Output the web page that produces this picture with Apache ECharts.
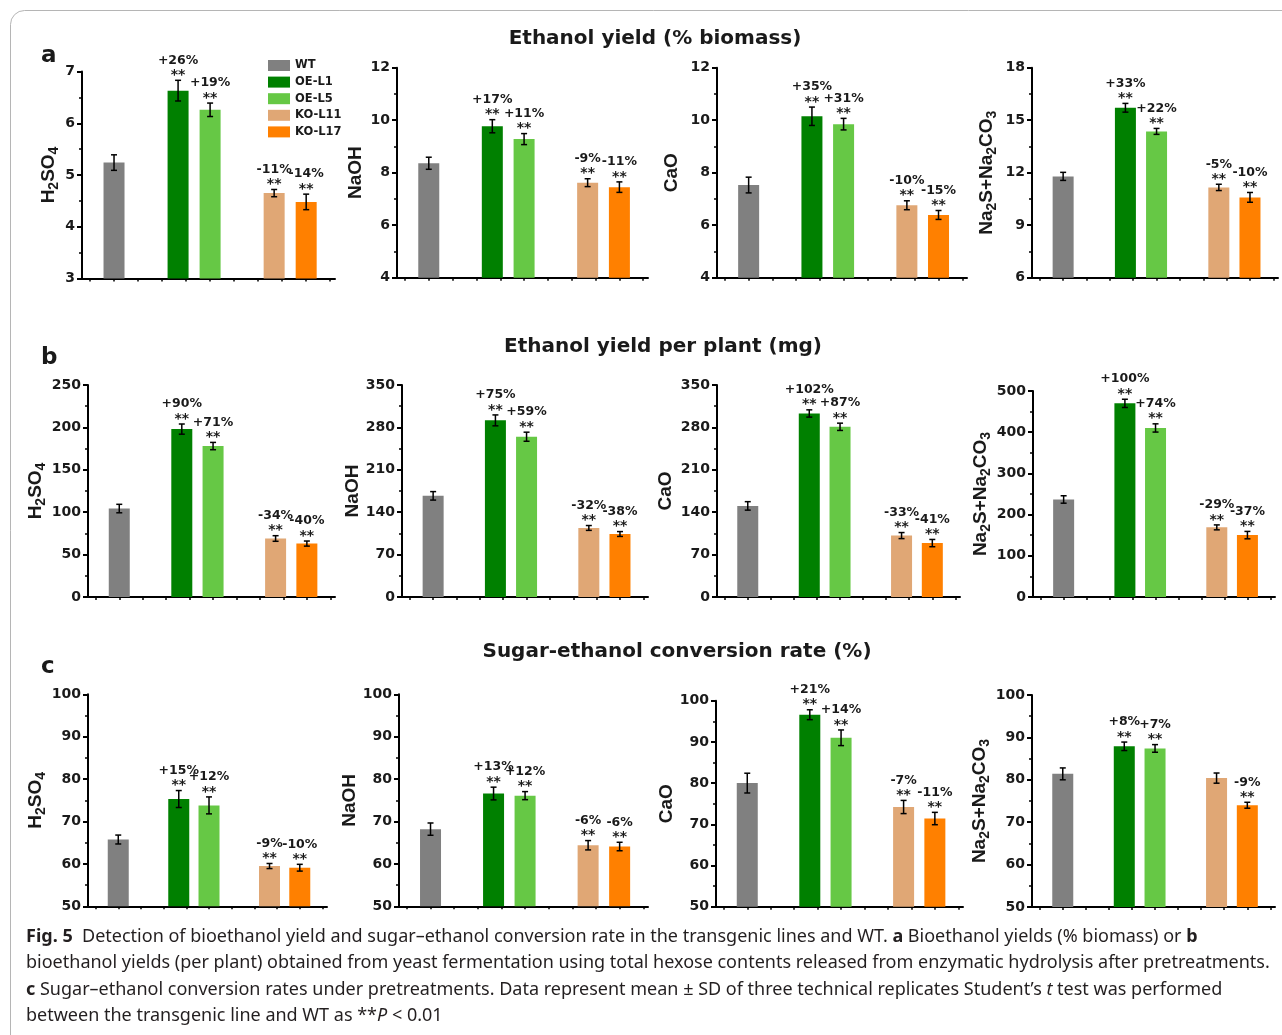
<!DOCTYPE html>
<html>
<head>
<meta charset="utf-8">
<script src="https://cdn.jsdelivr.net/npm/echarts@6/dist/echarts.min.js"></script>
<style>
  html, body { margin: 0; padding: 0; background: #ffffff; }
  #chart { width: 1282px; height: 1035px; }
</style>
</head>
<body>
<div id="chart"></div>
<script>
// ---- data ---------------------------------------------------------------
const genotypes = ['WT', 'OE-L1', 'OE-L5', 'KO-L11', 'KO-L17'];
// positions of the five bars along each panel's x axis (gaps at 2 and 5)
const barSlots = [1, 3, 4, 6, 7];
const pretreatments = ['H2SO4', 'NaOH', 'CaO', 'Na2S+Na2CO3'];
const rowLetters = ['a', 'b', 'c'];
const rowTitles = ['Ethanol yield (% biomass)', 'Ethanol yield per plant (mg)', 'Sugar-ethanol conversion rate (%)'];

// a: ethanol yield (% biomass), one row per pretreatment
const yieldPctMean = [
  [5.24, 6.63, 6.26, 4.65, 4.48],
  [8.36, 9.77, 9.28, 7.62, 7.45],
  [7.53, 10.15, 9.85, 6.76, 6.39],
  [11.79, 15.71, 14.36, 11.16, 10.59]
];
const yieldPctSD = [
  [0.15, 0.20, 0.13, 0.07, 0.15],
  [0.23, 0.25, 0.21, 0.15, 0.20],
  [0.30, 0.35, 0.22, 0.17, 0.17],
  [0.23, 0.25, 0.17, 0.18, 0.28]
];
const yieldPctChange = [
  ['', '+26%', '+19%', '-11%', '-14%'],
  ['', '+17%', '+11%', '-9%', '-11%'],
  ['', '+35%', '+31%', '-10%', '-15%'],
  ['', '+33%', '+22%', '-5%', '-10%']
];

// b: ethanol yield per plant (mg)
const yieldPlantMean = [
  [104.3, 198, 178, 69, 63],
  [167, 291.6, 264.6, 114, 104],
  [150.4, 303, 281, 101.4, 89],
  [236.7, 470, 410.3, 169, 150.2]
];
const yieldPlantSD = [
  [5, 6, 4.3, 3.3, 3],
  [7, 9, 7.5, 4, 4],
  [7, 6, 6, 5, 6],
  [9, 10, 10, 6, 9]
];
const yieldPlantChange = [
  ['', '+90%', '+71%', '-34%', '-40%'],
  ['', '+75%', '+59%', '-32%', '-38%'],
  ['', '+102%', '+87%', '-33%', '-41%'],
  ['', '+100%', '+74%', '-29%', '-37%']
];

// c: sugar-ethanol conversion rate (%)
const conversionMean = [
  [65.75, 75.3, 73.8, 59.5, 59.1],
  [68.2, 76.6, 76.1, 64.4, 64.1],
  [80.0, 96.6, 91.0, 74.2, 71.4],
  [81.4, 87.9, 87.4, 80.4, 74.0]
];
const conversionSD = [
  [1.05, 2.0, 2.0, 0.6, 0.8],
  [1.45, 1.5, 0.95, 1.1, 1.0],
  [2.4, 1.2, 1.9, 1.6, 1.5],
  [1.4, 1.0, 0.9, 1.2, 0.7]
];
const conversionChange = [
  ['', '+15%', '+12%', '-9%', '-10%'],
  ['', '+13%', '+12%', '-6%', '-6%'],
  ['', '+21%', '+14%', '-7%', '-11%'],
  ['', '+8%', '+7%', '', '-9%']
];

// y axis ranges per row and pretreatment: [min, max, interval]
const yRangeA = [[3, 7, 1], [4, 12, 2], [4, 12, 2], [6, 18, 3]];
const yRangeB = [[0, 250, 50], [0, 350, 70], [0, 350, 70], [0, 500, 100]];
const yRangeC = [[50, 100, 10], [50, 100, 10], [50, 100, 10], [50, 100, 10]];

// ---- styling & layout ---------------------------------------------------
const barColors = ['#808080', '#008000', '#66c845', '#e0a775', '#ff8000'];
const INK = '#1a1a1a';
const BOLD_FONT = '"DejaVu Sans", sans-serif';
const NAME_FONT = '"Liberation Sans", Arial, sans-serif';

// grid boxes [left, top, width, height, nameGap] for each panel
const gridBoxes = [
  [[82, 71.5, 253, 207, 22], [397, 67.7, 251, 210, 30], [717, 67.7, 250, 210, 34], [1032, 67.7, 246, 210, 34]],
  [[88, 385, 247, 212, 38], [402, 385, 246, 212, 37], [717, 385, 243, 212, 40], [1033, 391, 242, 206, 38]],
  [[88, 694.3, 239, 212, 38], [399, 694.3, 249, 212, 31], [716, 700.7, 247, 206, 33], [1032, 695, 243, 212, 37]]
];
const rowTitleY = [39, 347, 652];
const rowTitleX = [655, 663, 677];
const rowLetterY = [56, 358, 667];

const rows = [
  { mean: yieldPctMean, sd: yieldPctSD, change: yieldPctChange, range: yRangeA },
  { mean: yieldPlantMean, sd: yieldPlantSD, change: yieldPlantChange, range: yRangeB },
  { mean: conversionMean, sd: conversionSD, change: conversionChange, range: yRangeC }
];

// chemical formula -> rich text with subscript digits
function formulaRich(name) {
  return name.replace(/([A-Za-z+]+)|(\d+)/g, (m, word, digits) =>
    word ? '{n|' + word + '}' : '{s|' + digits + '}');
}

const xTickValues = [0.25, 1, 1.75, 2.5, 3.25, 4, 4.75, 5.5, 6.25, 7, 7.75];

const grids = [], xAxes = [], yAxes = [], series = [];

rows.forEach((row, r) => {
  pretreatments.forEach((pt, c) => {
    const idx = grids.length;
    const [left, top, width, height, nameGap] = gridBoxes[r][c];
    const [ymin, ymax, yint] = row.range[c];
    grids.push({ left, top, width, height, containLabel: false });
    xAxes.push({
      type: 'value', gridIndex: idx, min: 0, max: 7.9,
      axisLine: { show: true, onZero: false, lineStyle: { color: '#000', width: 2 } },
      axisTick: { show: true, length: 3, customValues: xTickValues, lineStyle: { color: '#000', width: 1.5 } },
      axisLabel: { show: false },
      splitLine: { show: false }
    });
    yAxes.push({
      type: 'value', gridIndex: idx, min: ymin, max: ymax, interval: yint,
      axisLine: { show: true, onZero: false, lineStyle: { color: '#000', width: 2 } },
      axisTick: { show: true, length: 5, lineStyle: { color: '#000', width: 2 } },
      minorTick: { show: true, splitNumber: 2, length: 3, lineStyle: { color: '#000', width: 1.5 } },
      axisLabel: { color: INK, fontFamily: BOLD_FONT, fontWeight: 'bold', fontSize: 14, margin: 7 },
      splitLine: { show: false },
      name: formulaRich(pt),
      nameLocation: 'middle',
      nameRotate: 90,
      nameGap: nameGap,
      nameTextStyle: {
        rich: {
          n: { fontFamily: NAME_FONT, fontWeight: 'bold', fontSize: 19, color: INK, lineHeight: 22 },
          s: { fontFamily: NAME_FONT, fontWeight: 'bold', fontSize: 14, color: INK, lineHeight: 22, padding: [10, 0, 0, 0] }
        }
      }
    });

    // one bar series per genotype so the legend can list them
    genotypes.forEach((g, k) => {
      series.push({
        type: 'bar', name: g, xAxisIndex: idx, yAxisIndex: idx,
        barWidth: 21, barGap: '-100%',
        itemStyle: { color: barColors[k] },
        emphasis: { disabled: true },
        data: [[barSlots[k], row.mean[c][k]]]
      });
    });

    // error bars with significance marks and % change above them
    const changes = row.change[c];
    series.push({
      type: 'custom', xAxisIndex: idx, yAxisIndex: idx, z: 5, clip: false,
      encode: { x: 0, y: 1 },
      data: genotypes.map((g, k) => [barSlots[k], row.mean[c][k], row.sd[c][k]]),
      renderItem(params, api) {
        const x = api.value(0), v = api.value(1), sd = api.value(2);
        const topPt = api.coord([x, v + sd]);
        const botPt = api.coord([x, v - sd]);
        const half = 3;
        const stroke = { stroke: '#000', lineWidth: 1.5 };
        const children = [
          { type: 'line', shape: { x1: topPt[0], y1: topPt[1], x2: botPt[0], y2: botPt[1] }, style: stroke },
          { type: 'line', shape: { x1: topPt[0] - half, y1: topPt[1], x2: topPt[0] + half, y2: topPt[1] }, style: stroke },
          { type: 'line', shape: { x1: botPt[0] - half, y1: botPt[1], x2: botPt[0] + half, y2: botPt[1] }, style: stroke }
        ];
        const label = changes[params.dataIndex];
        if (label) {
          children.push({
            type: 'text',
            style: { text: '**', x: topPt[0], y: topPt[1] - 5, align: 'center', verticalAlign: 'middle',
                     font: 'bold 14px ' + BOLD_FONT, fill: INK }
          });
          children.push({
            type: 'text',
            style: { text: label, x: topPt[0], y: topPt[1] - 20, align: 'center', verticalAlign: 'middle',
                     font: 'bold 12.5px ' + BOLD_FONT, fill: INK }
          });
        }
        return { type: 'group', children };
      }
    });
  });
});

// ---- headings, frame and caption ---------------------------------------
const graphics = [
  { type: 'rect', z: -1, shape: { x: 10.5, y: 10.5, width: 1300, height: 1100, r: 14 },
    style: { fill: 'none', stroke: '#b5b5b5', lineWidth: 1 } }
];
rowTitles.forEach((t, r) => {
  graphics.push({ type: 'text', x: rowTitleX[r], y: rowTitleY[r],
    style: { text: t, align: 'center', verticalAlign: 'middle', font: 'bold 20px ' + BOLD_FONT, fill: INK } });
  graphics.push({ type: 'text', x: 41, y: rowLetterY[r],
    style: { text: rowLetters[r], align: 'left', verticalAlign: 'middle', font: 'bold 23px ' + BOLD_FONT, fill: INK } });
});

const captionLines = [
  '{b|Fig. 5}  Detection of bioethanol yield and sugar–ethanol conversion rate in the transgenic lines and WT. {b|a} Bioethanol yields (% biomass) or {b|b}',
  'bioethanol yields (per plant) obtained from yeast fermentation using total hexose contents released from enzymatic hydrolysis after pretreatments.',
  '{b|c} Sugar–ethanol conversion rates under pretreatments. Data represent mean ± SD of three technical replicates Student’s {i|t} test was performed',
  'between the transgenic line and WT as **{i|P} < 0.01'
];
const captionY = [937, 963, 990, 1016];
const CAP_FONT = '"Noto Sans", "Open Sans", sans-serif';
const CAP_SIZE = 18;
captionLines.forEach((line, i) => {
  graphics.push({
    type: 'text', x: 26, y: captionY[i],
    style: {
      text: line, align: 'left', verticalAlign: 'middle',
      font: CAP_SIZE + 'px ' + CAP_FONT, fill: '#231f20',
      rich: {
        b: { fontFamily: CAP_FONT, fontSize: CAP_SIZE, fontWeight: 'bold', fill: '#231f20' },
        i: { fontFamily: CAP_FONT, fontSize: CAP_SIZE, fontStyle: 'italic', fill: '#231f20' }
      }
    }
  });
});

const chart = echarts.init(document.getElementById('chart'), null, { renderer: 'canvas' });
chart.setOption({
  animation: false,
  backgroundColor: '#ffffff',
  legend: {
    data: genotypes, orient: 'vertical', left: 263, top: 54.5,
    icon: 'rect', itemWidth: 22, itemHeight: 11, itemGap: 4.6,
    selectedMode: false,
    textStyle: { fontFamily: BOLD_FONT, fontWeight: 'bold', fontSize: 11.5, color: INK, lineHeight: 11 }
  },
  grid: grids,
  xAxis: xAxes,
  yAxis: yAxes,
  series: series,
  graphic: graphics
});
</script>
</body>
</html>
